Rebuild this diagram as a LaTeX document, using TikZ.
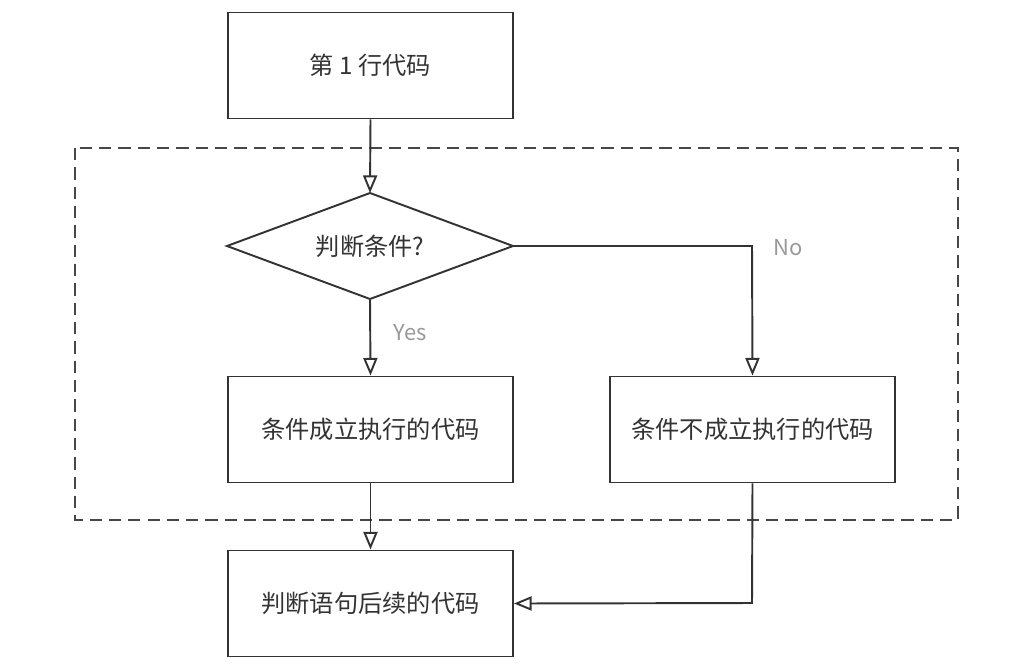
\documentclass[tikz,border=0pt]{standalone}
\usepackage{fontspec}
\setmainfont{Noto Sans CJK SC}
\usetikzlibrary{arrows.meta}
\definecolor{ln}{HTML}{333333}
\definecolor{lbl}{HTML}{999999}
\tikzset{
  box/.style={draw=ln, line width=1.1pt, minimum width=285*0.02cm, minimum height=106*0.02cm, inner sep=0pt, font=\fontsize{13.8}{16}\selectfont, text=ln},
  conn/.style={draw=ln, line width=1.1pt, -{Triangle[open, length=10pt, width=8pt, line width=1.1pt]}},
  lab/.style={text=lbl, font=\fontsize{12.5}{15}\selectfont},
}
\begin{document}
\begin{tikzpicture}[x=0.02cm, y=-0.02cm]
\useasboundingbox (0,0) rectangle (1030,670);
\draw[ln!90, line width=1.1pt, dash pattern=on 7pt off 4pt] (75,148) rectangle (958,520);
\node[box] (start) at (370.5,65.5) {第 1 行代码};
\draw[ln, line width=1.1pt] (227,246) coordinate (dl) -- (370,193) coordinate (dt) -- (513,246) coordinate (dr) -- (370,299) coordinate (db) -- cycle;
\node[text=ln, font=\fontsize{13.8}{16}\selectfont] (cond) at (370,246) {判断条件?};
\node[box] (yes) at (370.5,429.5) {条件成立执行的代码};
\node[box] (no) at (752.5,429.5) {条件不成立执行的代码};
\node[box] (after) at (370.5,603.5) {判断语句后续的代码};
\coordinate (c1) at (752,246);
\coordinate (c2) at (752,603);
\draw[conn] (start.south) -- (dt);
\draw[conn] (db) -- (yes.north);
\draw[conn] (dr) -- (c1) -- (no.north);
\draw[conn] (yes.south) -- (after.north);
\draw[conn] (no.south) -- (c2) -- (after.east);
\node[lab] (ylab) at (410,333) {Yes};
\node[lab] (nlab) at (788,248) {No};
\end{tikzpicture}
\end{document}
